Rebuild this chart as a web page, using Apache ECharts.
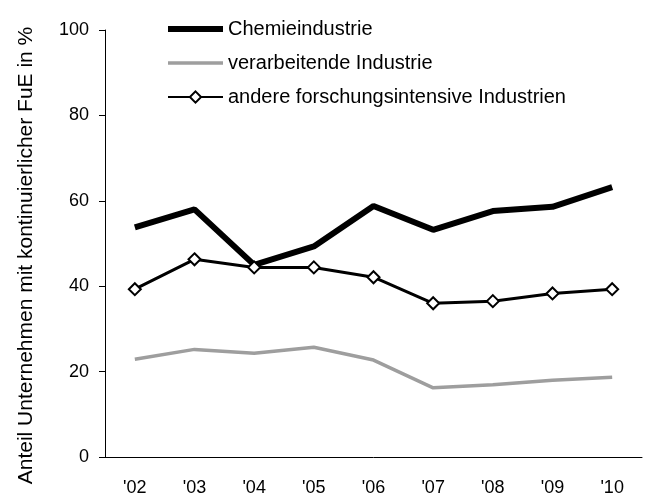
<!DOCTYPE html>
<html>
<head>
    <meta charset="utf-8">
    <script src="https://cdn.jsdelivr.net/npm/echarts@6/dist/echarts.min.js"></script>
    <title>FuE Anteil</title>
</head>
<body style="margin:0">
    <div id="main" style="width:654px; height:494px;"></div>
    <script type="text/javascript">
        // years on the x axis
        var years = ["'02", "'03", "'04", "'05", "'06", "'07", "'08", "'09", "'10"];
        // share of firms with continuous R&D, in %
        var chemie = [53.8, 58.0, 45.0, 49.3, 58.8, 53.2, 57.6, 58.6, 63.2];
        var verarbeitend = [22.9, 25.2, 24.3, 25.7, 22.7, 16.2, 16.9, 18.0, 18.7];
        var andere = [39.3, 46.3, 44.4, 44.4, 42.1, 36.0, 36.5, 38.3, 39.3];

        var myChart = echarts.init(document.getElementById('main'));
        var font = 'Liberation Sans, Arial, sans-serif';

        var option = {
            animation: false,
            textStyle: { fontFamily: font },
            grid: { left: 105, right: 12, top: 30, bottom: 37, outerBoundsMode: 'none' },
            legend: {
                orient: 'vertical',
                left: 160,
                top: 14,
                itemWidth: 55,
                itemHeight: 14,
                itemGap: 14,
                textStyle: { fontSize: 20, color: '#000', fontFamily: font },
                data: [
                    // hide the default circle in the legend icon
                    { name: 'Chemieindustrie', itemStyle: { opacity: 0 }, lineStyle: { width: 6 } },
                    { name: 'verarbeitende Industrie', itemStyle: { opacity: 0 }, lineStyle: { width: 3.5 } },
                    { name: 'andere forschungsintensive Industrien' }
                ]
            },
            xAxis: {
                type: 'category',
                data: years,
                boundaryGap: true,
                axisLine: { lineStyle: { color: '#000', width: 1 } },
                axisTick: { show: false },
                axisLabel: { color: '#000', fontSize: 18, margin: 22 }
            },
            yAxis: {
                type: 'value',
                min: 0,
                max: 100,
                interval: 20,
                name: 'Anteil Unternehmen mit kontinuierlicher FuE in %',
                nameLocation: 'middle',
                nameGap: 68,
                nameTextStyle: { fontSize: 21, color: '#000', padding: [0, 24, 0, 0] },
                splitLine: { show: false },
                axisLine: { show: true, lineStyle: { color: '#000', width: 1 } },
                axisTick: { show: true, inside: false, length: 6, lineStyle: { color: '#000' } },
                axisLabel: { color: '#000', fontSize: 18, margin: 16 }
            },
            series: [
                {
                    name: 'Chemieindustrie',
                    type: 'line',
                    data: chemie,
                    symbol: 'none',
                    itemStyle: { color: '#000' },
                    lineStyle: { color: '#000', width: 6 }
                },
                {
                    name: 'verarbeitende Industrie',
                    type: 'line',
                    data: verarbeitend,
                    symbol: 'none',
                    itemStyle: { color: '#9e9e9e' },
                    lineStyle: { color: '#9e9e9e', width: 3.5 }
                },
                {
                    name: 'andere forschungsintensive Industrien',
                    type: 'line',
                    data: andere,
                    symbol: 'diamond',
                    symbolSize: 12,
                    itemStyle: { color: '#fff', borderColor: '#000', borderWidth: 2 },
                    lineStyle: { color: '#000', width: 3 }
                }
            ]
        };
        myChart.setOption(option);
    </script>
</body>
</html>
